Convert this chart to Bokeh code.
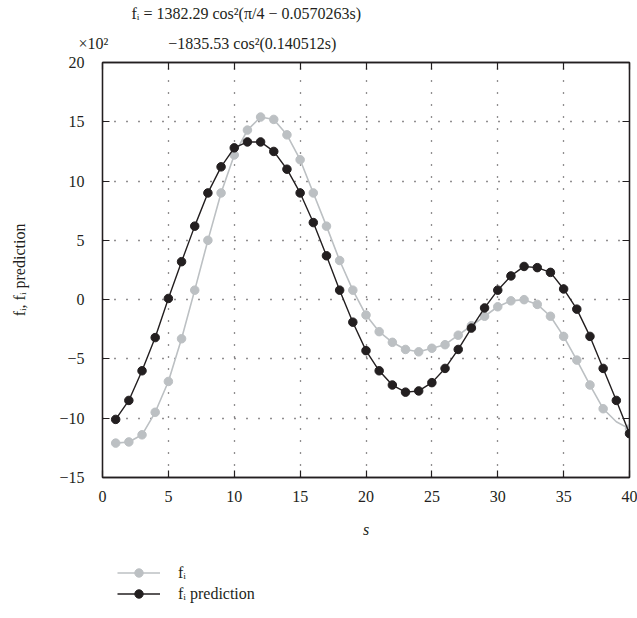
from bokeh.plotting import figure
from bokeh.layouts import column
from bokeh.models import (Legend, LegendItem, LinearAxis, Title, FixedTicker,
                          Range1d, ColumnDataSource)
from bokeh.embed import file_html
from bokeh.resources import INLINE

# ---- data (values in units of 10^2) ----
s = [1, 2, 3, 4, 5, 6, 7, 8, 9, 10, 11, 12, 13, 14, 15, 16, 17, 18, 19, 20,
     21, 22, 23, 24, 25, 26, 27, 28, 29, 30, 31, 32, 33, 34, 35, 36, 37, 38, 39, 40]
fi = [-12.1, -12.0, -11.4, -9.5, -6.9, -3.3, 0.8, 5.0, 9.0, 12.2,
      14.3, 15.4, 15.2, 13.9, 11.8, 9.0, 6.2, 3.3, 0.8, -1.3,
      -2.7, -3.6, -4.2, -4.4, -4.1, -3.8, -3.0, -2.2, -1.4, -0.6,
      -0.1, 0.0, -0.4, -1.4, -3.1, -5.1, -7.2, -9.2, -10.3, -10.9]
fi_pred = [-10.1, -8.5, -6.0, -3.2, 0.1, 3.2, 6.2, 9.0, 11.2, 12.8,
           13.3, 13.3, 12.5, 11.0, 9.0, 6.5, 3.7, 0.8, -1.9, -4.3,
           -6.0, -7.2, -7.8, -7.7, -7.0, -5.8, -4.2, -2.4, -0.7, 0.8,
           2.0, 2.8, 2.7, 2.3, 0.9, -0.8, -3.1, -5.8, -8.5, -11.3]
fi_no_marker = [39]          # the f_i marker at s = 39 is not drawn in the reference
x_ticks = [0, 5, 10, 15, 20, 25, 30, 35, 40]
y_ticks = [-15, -10, -5, 0, 5, 10, 15, 20]

title_line1 = "fᵢ = 1382.29 cos²(π/4 − 0.0570263s)"
title_line2 = "−1835.53 cos²(0.140512s)"
y_scale_note = "×10²"
x_label = "s"
y_label = "fᵢ, fᵢ prediction"
legend_labels = ["fᵢ", "fᵢ prediction"]

FONT = "Liberation Serif"
INK = "#231f20"
GREY = "#bcc0c3"
FS = "16px"
NBSP = "\u00a0"

p = figure(width=637, height=545, x_range=Range1d(0, 40), y_range=Range1d(-15, 20),
           output_backend="svg", toolbar_location=None,
           min_border_left=102, min_border_right=8, min_border_top=62,
           min_border_bottom=68)
p.background_fill_color = "white"
p.border_fill_color = "white"
p.outline_line_color = INK
p.outline_line_width = 1.3

# axes
for ax in (p.xaxis[0], p.yaxis[0]):
    ax.major_tick_in = 7
    ax.major_tick_out = 0
    ax.minor_tick_in = 0
    ax.minor_tick_out = 0
    ax.axis_line_color = INK
    ax.axis_line_width = 1.3
    ax.major_tick_line_color = INK
    ax.major_tick_line_width = 1.2
    ax.major_label_text_font = FONT
    ax.major_label_text_font_size = FS
    ax.major_label_text_color = INK
    ax.axis_label_text_font = FONT
    ax.axis_label_text_font_size = FS
    ax.axis_label_text_color = INK
p.xaxis[0].ticker = FixedTicker(ticks=x_ticks)
p.yaxis[0].ticker = FixedTicker(ticks=y_ticks)
p.xaxis[0].major_label_standoff = 13
p.yaxis[0].major_label_standoff = 18
p.xaxis[0].axis_label = x_label
p.xaxis[0].axis_label_text_font_style = "italic"
p.xaxis[0].axis_label_standoff = 16
p.yaxis[0].axis_label = y_label
p.yaxis[0].axis_label_text_font_style = "normal"
p.yaxis[0].axis_label_standoff = 28

# inward ticks on the top and right edges (no labels)
top_axis = LinearAxis(ticker=FixedTicker(ticks=x_ticks))
right_axis = LinearAxis(ticker=FixedTicker(ticks=y_ticks))
for ax in (top_axis, right_axis):
    ax.major_tick_in = 7
    ax.major_tick_out = 0
    ax.minor_tick_in = 0
    ax.minor_tick_out = 0
    ax.axis_line_color = INK
    ax.axis_line_width = 1.3
    ax.major_tick_line_color = INK
    ax.major_tick_line_width = 1.2
    ax.major_label_text_alpha = 0
    ax.major_label_text_font_size = "1px"
    ax.major_label_standoff = 0
p.add_layout(top_axis, "above")
p.add_layout(right_axis, "right")

# grid
for g, t in ((p.xgrid[0], x_ticks), (p.ygrid[0], y_ticks)):
    g.ticker = FixedTicker(ticks=t)
    g.grid_line_color = INK
    g.grid_line_dash = "1 11"
    g.grid_line_width = 1.3

# data
src = ColumnDataSource(dict(s=s, fi=fi, pred=fi_pred))
mk_s = [x for x in s if x not in fi_no_marker]
mk_fi = [v for x, v in zip(s, fi) if x not in fi_no_marker]
src_mk = ColumnDataSource(dict(s=mk_s, fi=mk_fi))

gl = p.line("s", "fi", source=src, line_color=GREY, line_width=1.6)
gm = p.scatter("s", "fi", source=src_mk, size=8.5, fill_color=GREY, line_color=GREY)
bl = p.line("s", "pred", source=src, line_color=INK, line_width=1.4)
bm = p.scatter("s", "pred", source=src, size=8.5, fill_color=INK, line_color=INK)

# titles (first added sits closest to the frame)
t2 = Title(text=y_scale_note + NBSP * 15 + title_line2, align="left", offset=-24,
           text_font=FONT, text_font_size=FS, text_font_style="normal",
           text_color=INK, standoff=22)
t1 = Title(text=title_line1, align="left", offset=29,
           text_font=FONT, text_font_size=FS, text_font_style="normal",
           text_color=INK, standoff=0)
p.add_layout(t2, "above")
p.add_layout(t1, "above")

# legend strip below the chart (its renderers share the data source but the
# strip's ranges keep them out of view, so only the legend swatches show)
pl = figure(width=637, height=73, x_range=Range1d(-10, -5), y_range=Range1d(-10, -5),
            output_backend="svg", toolbar_location=None,
            min_border_left=102, min_border_top=2, min_border_right=8,
            min_border_bottom=0)
pl.axis.visible = False
pl.grid.visible = False
pl.outline_line_color = None
pl.background_fill_color = "white"
pl.border_fill_color = "white"
lg_gl = pl.line("s", "fi", source=src, line_color=GREY, line_width=1.6)
lg_gm = pl.scatter("s", "fi", source=src, size=8.5, fill_color=GREY, line_color=GREY)
lg_bl = pl.line("s", "pred", source=src, line_color=INK, line_width=1.4)
lg_bm = pl.scatter("s", "pred", source=src, size=8.5, fill_color=INK, line_color=INK)
legend = Legend(items=[LegendItem(label=legend_labels[0], renderers=[lg_gl, lg_gm]),
                       LegendItem(label=legend_labels[1], renderers=[lg_bl, lg_bm])],
                location="top_left", orientation="vertical",
                glyph_width=43, glyph_height=21, label_height=21, label_standoff=18,
                spacing=0, padding=0, margin=15,
                border_line_color=None, background_fill_alpha=0,
                label_text_font=FONT, label_text_font_size=FS, label_text_color=INK)
pl.add_layout(legend)

layout = column(p, pl, spacing=0)
open("out.html", "w").write(file_html(layout, INLINE))
